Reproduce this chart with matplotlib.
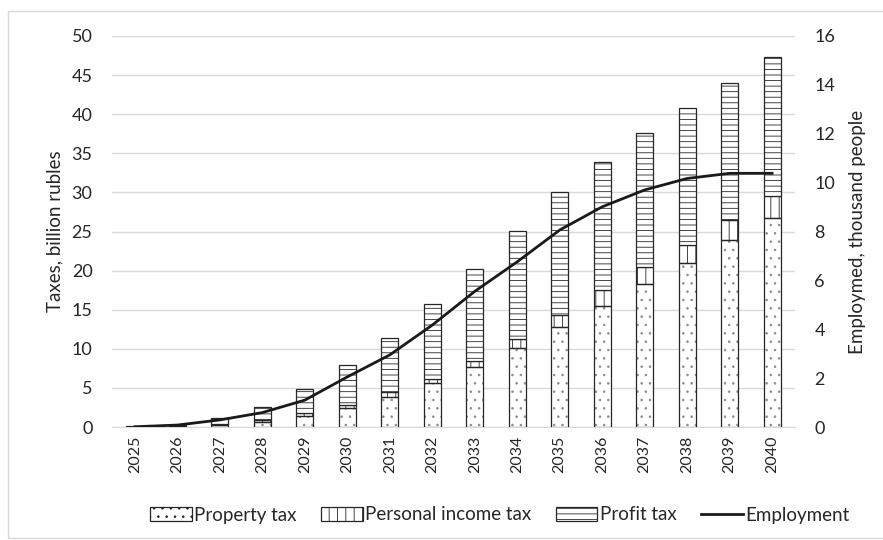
import matplotlib
matplotlib.use("Agg")
import matplotlib.pyplot as plt
from matplotlib.patches import Rectangle
import numpy as np

years = [str(y) for y in range(2025, 2041)]
property_tax = [0.03, 0.1, 0.3, 0.7, 1.4, 2.4, 3.9, 5.6, 7.7, 10.1, 12.8, 15.5, 18.3, 21.0, 23.9, 26.7]
income_tax = [0.02, 0.05, 0.1, 0.2, 0.35, 0.4, 0.6, 0.6, 0.7, 1.2, 1.5, 2.0, 2.1, 2.3, 2.6, 2.9]
profit_tax = [0.05, 0.15, 0.7, 1.7, 3.1, 5.1, 6.9, 9.5, 11.8, 13.8, 15.7, 16.4, 17.2, 17.5, 17.5, 17.7]
employment = [0.01, 0.08, 0.29, 0.59, 1.1, 2.05, 2.95, 4.17, 5.55, 6.76, 8.06, 9.01, 9.70, 10.17, 10.38, 10.38]

plt.rcParams['font.family'] = ['Lato', 'DejaVu Sans']
plt.rcParams['hatch.linewidth'] = 0.6

fig = plt.figure(figsize=(8.83, 5.4), dpi=100)
ax = fig.add_axes([112/883, 1-427/540, (795-112)/883, (427-36)/540])
ax2 = ax.twinx()

x = np.arange(len(years))
w = 0.4
p = np.array(property_tax)
i = np.array(income_tax)
pr = np.array(profit_tax)
# dotted fill in light gray, outline drawn separately in dark
ax.bar(x, p, w, color='white', edgecolor='#8c8c8c', hatch='..', linewidth=0, zorder=3)
ax.bar(x, p, w, fill=False, edgecolor='#262626', linewidth=0.9, zorder=3.5)
ax.bar(x, i, w, bottom=p, color='white', edgecolor='#262626', hatch='||', linewidth=0.9, zorder=3)
ax.bar(x, pr, w, bottom=p+i, color='white', edgecolor='#262626', hatch='---', linewidth=0.9, zorder=3)

ax2.plot(x, employment, color='#1a1a1a', linewidth=2.0, zorder=4)

ax.set_xlim(-0.54, 15.54)
ax.set_ylim(0, 50)
ax.set_yticks(np.arange(0, 51, 5))
ax2.set_ylim(0, 16)
ax2.set_yticks(np.arange(0, 17, 2))
ax.set_xticks(x)
ax.set_xticklabels(years, rotation=90, fontsize=11.5)
ax.grid(axis='y', color='#d9d9d9', linewidth=1.0, zorder=0)
ax.set_axisbelow(True)
for a in (ax, ax2):
    for s in a.spines.values():
        s.set_visible(False)
    a.tick_params(length=0, labelsize=13, colors='#262626')
ax.spines['bottom'].set_visible(True)
ax.spines['bottom'].set_color('#d9d9d9')
ax.tick_params(axis='x', labelsize=11.5, pad=6)
ax.tick_params(axis='y', pad=14)
ax2.tick_params(axis='y', pad=14)
ax.set_zorder(ax2.get_zorder() - 1)
ax.patch.set_visible(False)

ax.set_ylabel('Taxes, billion rubles', fontsize=13.5, color='#262626', labelpad=6)
ax2.set_ylabel('Employmed, thousand people', fontsize=13.5, color='#262626', labelpad=10)

from matplotlib.patches import Patch
from matplotlib.lines import Line2D
handles = [
    Patch(facecolor='white', edgecolor='#262626', hatch='..', linewidth=0.9),
    Patch(facecolor='white', edgecolor='#262626', hatch='||', linewidth=0.9),
    Patch(facecolor='white', edgecolor='#262626', hatch='---', linewidth=0.9),
    Line2D([], [], color='#1a1a1a', linewidth=2.0),
]
labels = ['Property tax', 'Personal income tax', 'Profit tax', 'Employment']
fig.legend(handles, labels, loc='center', bbox_to_anchor=(500/883, 1-515/540), ncol=4,
           frameon=False, fontsize=13.5, handlelength=2.2, handleheight=0.8,
           handletextpad=0.15, columnspacing=1.3, labelcolor='#262626')

fig.patches.append(Rectangle((8/883, 2/540), 1.2, 1-13/540, transform=fig.transFigure,
                             fill=False, edgecolor='#d9d9d9', linewidth=1.0))

fig.savefig('out.png', dpi=100)
